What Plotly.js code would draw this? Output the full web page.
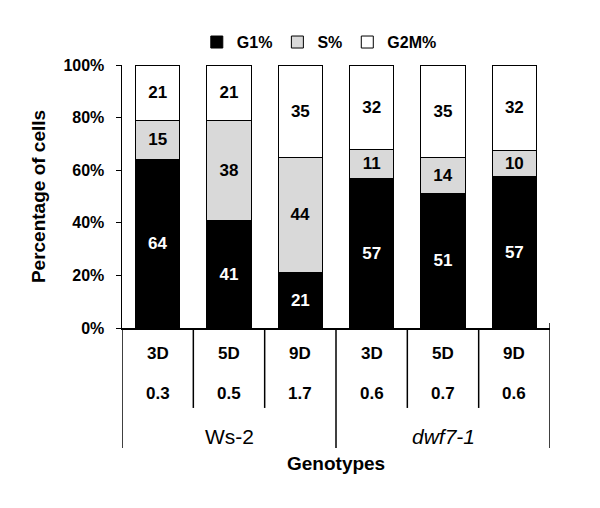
<!DOCTYPE html>
<html>
<head>
<meta charset="utf-8">
<script src="https://cdn.plot.ly/plotly-3.0.1.min.js"></script>
<style>
  html, body { margin: 0; padding: 0; background: #fff; }
  #chart { width: 600px; height: 508px; }
</style>
</head>
<body>
<div id="chart"></div>
<script>
// values
var days = ['3D', '5D', '9D', '3D', '5D', '9D'];
var ratios = ['0.3', '0.5', '1.7', '0.6', '0.7', '0.6'];
var genotypes = ['Ws-2', 'dwf7-1'];
var genotypeLabels = ['Ws-2', '<i>dwf7-1</i>'];
var groupOf = [0, 0, 0, 1, 1, 1];

var g1 = [64, 41, 21, 57, 51, 57];
var s = [15, 38, 44, 11, 14, 10];
var g2m = [21, 21, 35, 32, 35, 32];

var yTicks = [0, 20, 40, 60, 80, 100];
var yTickText = yTicks.map(function(v) { return v + '%'; });

var font = 'Arial, "Liberation Sans", sans-serif';
var xIdx = days.map(function(d, i) { return i; });

function barTrace(name, values, fill, textColor) {
    return {
        type: 'bar',
        name: name,
        x: xIdx,
        y: values,
        text: values.map(String),
        textposition: 'inside',
        insidetextanchor: 'middle',
        textangle: 0,
        textfont: {family: font, size: 17, color: textColor, weight: 'bold'},
        marker: {color: fill, line: {color: '#000', width: 1}},
        hoverinfo: 'skip'
    };
}

var data = [
    barTrace('G1%', g1, '#000000', '#ffffff'),
    barTrace('S%', s, '#d9d9d9', '#000000'),
    barTrace('G2M%', g2m, '#ffffff', '#000000')
];

// label rows under the axis
var annotations = [];
for (let i = 0; i < days.length; i++) {
    annotations.push({
        x: i, y: -0.096, xref: 'x', yref: 'paper', yanchor: 'middle', showarrow: false,
        text: days[i], font: {family: font, size: 17, color: '#000', weight: 'bold'}
    });
    annotations.push({
        x: i, y: -0.248, xref: 'x', yref: 'paper', yanchor: 'middle', showarrow: false,
        text: ratios[i], font: {family: font, size: 17, color: '#000', weight: 'bold'}
    });
}
for (let g = 0; g < genotypes.length; g++) {
    let members = xIdx.filter(function(i) { return groupOf[i] === g; });
    let mid = (members[0] + members[members.length - 1]) / 2;
    annotations.push({
        x: mid, y: -0.413, xref: 'x', yref: 'paper', yanchor: 'middle', showarrow: false,
        text: genotypeLabels[g], font: {family: font, size: 21, color: '#000'}
    });
}
annotations.push({
    x: 0.5, y: -0.517, xref: 'paper', yref: 'paper', yanchor: 'middle', showarrow: false,
    text: '<b>Genotypes</b>', font: {family: font, size: 19, color: '#000'}
});

// table divider lines between categories
var shapes = [];
for (let i = 0; i <= days.length; i++) {
    let outer = (i === 0 || i === days.length || groupOf[i] !== groupOf[i - 1]);
    shapes.push({
        type: 'line', xref: 'x', yref: 'paper',
        x0: i - 0.5, x1: i - 0.5,
        y0: (i === days.length) ? 0.019 : 0,
        y1: outer ? -0.456 : -0.304,
        line: {color: '#000', width: 1.5}
    });
}

var layout = {
    width: 600,
    height: 508,
    margin: {l: 122, r: 50, t: 65, b: 180},
    paper_bgcolor: '#fff',
    plot_bgcolor: '#fff',
    barmode: 'stack',
    barnorm: 'percent',
    bargap: 0.383,
    font: {family: font, color: '#000'},
    showlegend: true,
    legend: {
        orientation: 'h',
        x: 0.461, xanchor: 'center',
        y: 1.087, yanchor: 'middle',
        traceorder: 'normal',
        font: {family: font, size: 16, color: '#000', weight: 'bold'},
        itemwidth: 30
    },
    xaxis: {
        range: [-0.5, 5.5],
        showticklabels: false,
        ticks: '',
        showgrid: false,
        zeroline: false,
        showline: true,
        linecolor: '#000',
        linewidth: 1.5,
        fixedrange: true
    },
    yaxis: {
        range: [0, 100],
        tickmode: 'array',
        tickvals: yTicks,
        ticktext: yTickText,
        ticks: 'outside',
        ticklen: 5,
        tickcolor: '#000',
        ticklabelstandoff: 8,
        tickfont: {family: font, size: 16, color: '#000', weight: 'bold'},
        showgrid: false,
        zeroline: false,
        showline: true,
        linecolor: '#000',
        linewidth: 1.5,
        title: {text: 'Percentage of cells', standoff: 12,
                font: {family: font, size: 19, color: '#000', weight: 'bold'}},
        fixedrange: true
    },
    annotations: annotations,
    shapes: shapes
};

Plotly.newPlot('chart', data, layout, {displayModeBar: false, staticPlot: true});
</script>
</body>
</html>
